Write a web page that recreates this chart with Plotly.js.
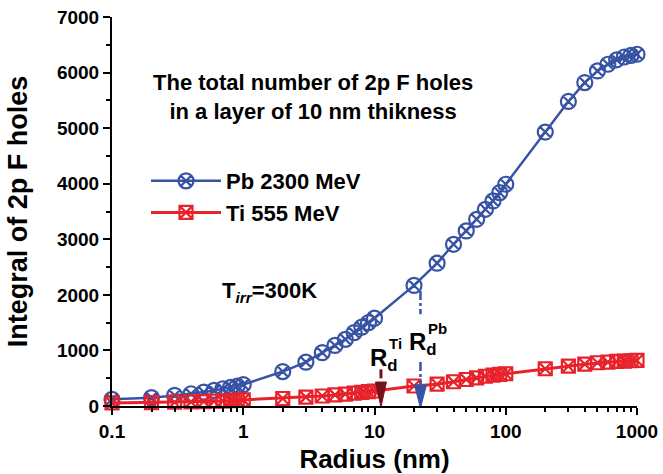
<!DOCTYPE html>
<html><head><meta charset="utf-8">
<script src="https://cdn.plot.ly/plotly-3.0.1.min.js"></script>
<style>html,body{margin:0;padding:0;background:#fff}#chart{width:663px;height:474px}</style>
</head><body><div id="chart"></div>
<script>
// ---- data ----
const radius = [0.1,0.2,0.3,0.4,0.5,0.6,0.7,0.8,0.9,1,2,3,4,5,6,7,8,9,10,20,30,40,50,60,70,80,90,100,200,300,400,500,600,700,800,900,1000];
const pbHoles = [120,150,190,220,250,280,310,335,360,385,620,790,960,1090,1200,1320,1420,1500,1580,2170,2570,2910,3150,3360,3540,3690,3840,3990,4930,5480,5820,6030,6150,6230,6280,6310,6330];
const tiHoles = [55,62,68,74,80,86,92,98,104,110,135,160,180,200,215,230,245,258,270,360,392,436,477,506,535,555,568,580,670,717,753,778,790,802,808,814,820];
const seriesNames = ['Pb 2300 MeV','Ti 555 MeV'];
const xTickVals = [0.1,1,10,100,1000];
const xTickText = ['0.1','1','10','100','1000'];
const yTickVals = [0,1000,2000,3000,4000,5000,6000,7000];
const yTickText = ['0','1000','2000','3000','4000','5000','6000','7000'];
const minorDigits = [2,3,4,5,6,7,8,9];
const rdTi = 11.2;   // R_d for Ti (nm)
const rdPb = 22.4;   // R_d for Pb (nm)

const BLUE = '#3853a4', RED = '#e8222b', DARKRED = '#74141a';
const FONT = 'Liberation Sans, Arial, Helvetica, sans-serif';

const xMinor = [];
xTickVals.slice(0, -1).forEach(d => minorDigits.forEach(k => xMinor.push(k * d)));

const traces = [
  {x: radius, y: pbHoles, name: seriesNames[0], type: 'scatter', mode: 'lines+markers',
   line: {color: BLUE, width: 2.5},
   marker: {symbol: 'circle-x-open', size: 15, color: BLUE, line: {color: BLUE, width: 2.2}},
   cliponaxis: false},
  {x: radius, y: tiHoles, name: seriesNames[1], type: 'scatter', mode: 'lines+markers',
   line: {color: RED, width: 3},
   marker: {symbol: 'square-x-open', size: 13, color: RED, line: {color: RED, width: 2.2}},
   cliponaxis: false}
];

function P(px, py) { return {x: (px - 112) / 525, y: (406 - py) / 389}; }

const bold = {family: FONT, color: '#000', weight: 700};
const annotations = [
  {text: 'The total number of 2p F holes<br>in a layer of 10 nm thikness', xref: 'paper', yref: 'paper',
    x: P(313, 0).x, y: P(0, 97).y, xanchor: 'center', yanchor: 'middle', showarrow: false, align: 'center',
    font: Object.assign({size: 22}, bold)},
  {text: 'T<sub><i>irr</i></sub>=300K', xref: 'paper', yref: 'paper', x: P(220, 0).x, y: P(0, 292).y,
    xanchor: 'left', yanchor: 'middle', showarrow: false, font: Object.assign({size: 22}, bold)},
  {text: 'R<sub>d</sub>', xref: 'paper', yref: 'paper', x: P(368, 0).x, y: P(0, 359).y,
    xanchor: 'left', yanchor: 'middle', showarrow: false, font: Object.assign({size: 24}, bold)},
  {text: 'Ti', xref: 'paper', yref: 'paper', x: P(387, 0).x, y: P(0, 343).y,
    xanchor: 'left', yanchor: 'middle', showarrow: false, font: Object.assign({size: 15}, bold)},
  {text: 'R<sub>d</sub>', xref: 'paper', yref: 'paper', x: P(407, 0).x, y: P(0, 343).y,
    xanchor: 'left', yanchor: 'middle', showarrow: false, font: Object.assign({size: 24}, bold)},
  {text: 'Pb', xref: 'paper', yref: 'paper', x: P(426, 0).x, y: P(0, 328).y,
    xanchor: 'left', yanchor: 'middle', showarrow: false, font: Object.assign({size: 15}, bold)}
];

const shapes = [
  {type: 'line', xref: 'x', yref: 'y', x0: rdPb, x1: rdPb, y0: 2070, y1: 1650, line: {color: BLUE, width: 2.5, dash: 'dashdot'}},
  {type: 'line', xref: 'x', yref: 'y', x0: rdPb, x1: rdPb, y0: 790, y1: 360, line: {color: BLUE, width: 2.5, dash: 'dashdot'}},
  {type: 'path', xref: 'x', yref: 'y', xsizemode: 'pixel', ysizemode: 'pixel', xanchor: rdPb, yanchor: 0,
   path: 'M-6,21 L6,21 L0,-2 Z', fillcolor: BLUE, line: {color: BLUE, width: 1}},
  {type: 'line', xref: 'x', yref: 'y', x0: rdTi, x1: rdTi, y0: 660, y1: 400, line: {color: DARKRED, width: 3, dash: 'dash'}},
  {type: 'path', xref: 'x', yref: 'y', xsizemode: 'pixel', ysizemode: 'pixel', xanchor: rdTi, yanchor: 0,
   path: 'M-5.5,24 L5.5,24 L0,-1 Z', fillcolor: DARKRED, line: {color: DARKRED, width: 1}}
];

const layout = {
  width: 663, height: 474,
  margin: {l: 112, r: 26, t: 17, b: 68, pad: 0},
  paper_bgcolor: '#fff', plot_bgcolor: '#fff',
  font: {family: FONT, color: '#000'},
  showlegend: true,
  legend: {x: P(146, 0).x, y: P(0, 160).y, xanchor: 'left', yanchor: 'top', bgcolor: 'rgba(0,0,0,0)',
    font: Object.assign({size: 22}, bold), itemwidth: 70, tracegroupgap: 0},
  xaxis: {type: 'log', range: [-1, 3], tickmode: 'array', tickvals: xTickVals, ticktext: xTickText,
    showgrid: false, zeroline: false, showline: true, linecolor: '#000', linewidth: 2,
    ticks: 'outside', ticklen: 7, tickwidth: 2, tickcolor: '#000',
    tickfont: Object.assign({size: 19}, bold),
    minor: {tickmode: 'array', tickvals: xMinor, ticks: 'outside', ticklen: 4, tickwidth: 2, tickcolor: '#000', showgrid: false},
    title: {text: 'Radius (nm)', font: Object.assign({size: 26}, bold), standoff: 12}},
  yaxis: {range: [0, 7000], tickmode: 'array', tickvals: yTickVals, ticktext: yTickText,
    showgrid: false, zeroline: false, showline: true, linecolor: '#000', linewidth: 2,
    ticks: 'outside', ticklen: 7, tickwidth: 2, tickcolor: '#000',
    tickfont: Object.assign({size: 19}, bold),
    minor: {dtick: 500, ticks: 'outside', ticklen: 4, tickwidth: 2, tickcolor: '#000', showgrid: false},
    title: {text: 'Integral of 2p F holes', font: Object.assign({size: 27}, bold), standoff: 21}},
  annotations: annotations,
  shapes: shapes
};

Plotly.newPlot('chart', traces, layout, {displayModeBar: false, staticPlot: true});
</script>
</body></html>
